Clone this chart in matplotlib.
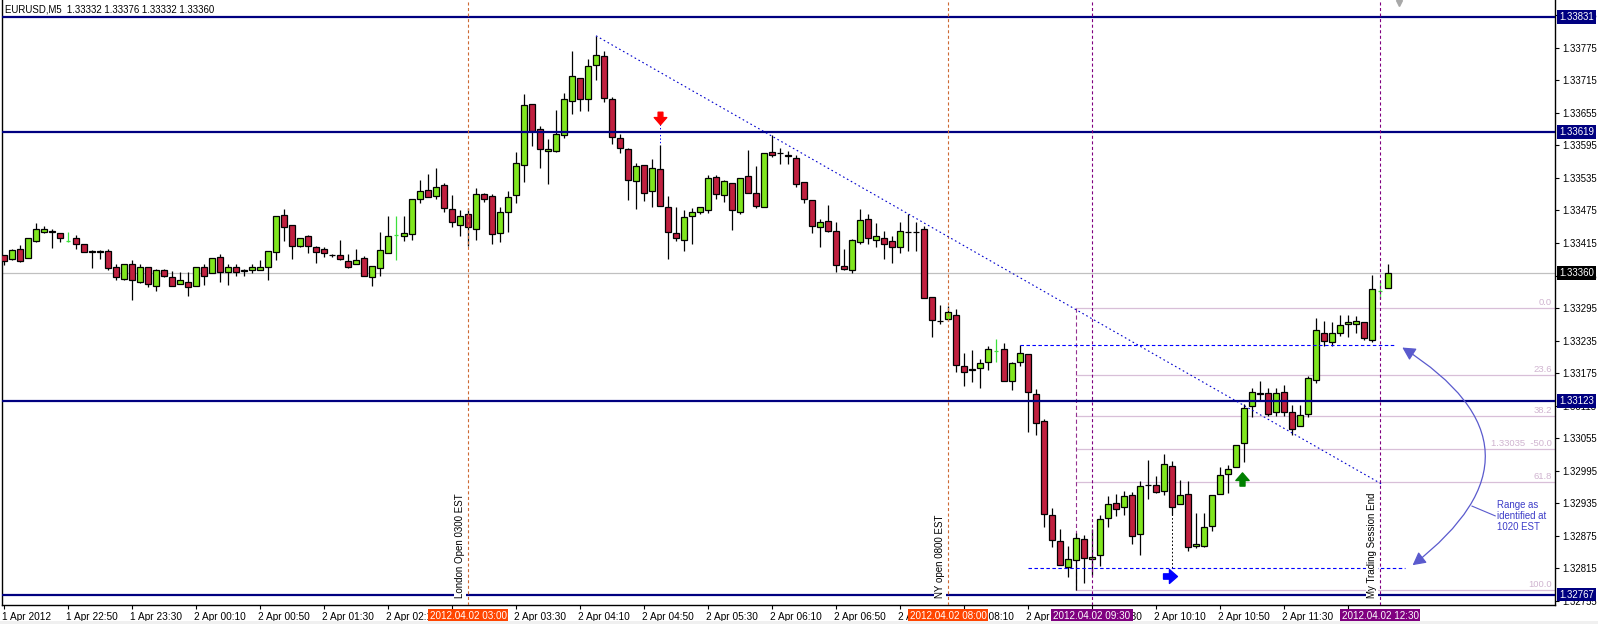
import numpy as np
import matplotlib
matplotlib.use('Agg')
import matplotlib.pyplot as plt
import matplotlib.transforms as mtransforms
from matplotlib.patches import Rectangle, FancyArrowPatch
from matplotlib.path import Path

plt.rcParams['font.family'] = ['Liberation Sans', 'DejaVu Sans']
plt.rcParams['lines.scale_dashes'] = False

# ---------------- data (EURUSD M5, bars from 1 Apr 2012 22:10) ----------------
opens = [
    1.33393, 1.33386, 1.33403, 1.33387, 1.33419, 1.33436, 1.33437, 1.33433, 1.33419, 1.33424,
    1.33414, 1.33400, 1.33400, 1.33400, 1.33371, 1.33349, 1.33377, 1.33344, 1.33370, 1.33335,
    1.33366, 1.33353, 1.33339, 1.33344, 1.33335, 1.33370, 1.33359, 1.33390, 1.33362, 1.33371,
    1.33365, 1.33366, 1.33366, 1.33370, 1.33398, 1.33466, 1.33448, 1.33410, 1.33427, 1.33407,
    1.33403, 1.33393, 1.33393, 1.33381, 1.33376, 1.33387, 1.33353, 1.33369, 1.33397, 1.33429,
    1.33427, 1.33431, 1.33497, 1.33513, 1.33502, 1.33522, 1.33477, 1.33449, 1.33468, 1.33441,
    1.33506, 1.33502, 1.33433, 1.33472, 1.33503, 1.33558, 1.33672, 1.33625, 1.33584, 1.33584,
    1.33614, 1.33677, 1.33719, 1.33681, 1.33744, 1.33760, 1.33680, 1.33609, 1.33588, 1.33530,
    1.33558, 1.33510, 1.33551, 1.33481, 1.33433, 1.33420, 1.33464, 1.33472, 1.33476, 1.33536,
    1.33503, 1.33525, 1.33473, 1.33538, 1.33508, 1.33481, 1.33582, 1.33581, 1.33578, 1.33571,
    1.33527, 1.33494, 1.33444, 1.33455, 1.33438, 1.33372, 1.33365, 1.33417, 1.33460, 1.33420,
    1.33424, 1.33418, 1.33408, 1.33436, 1.33436, 1.33440, 1.33316, 1.33272, 1.33274, 1.33283,
    1.33188, 1.33182, 1.33184, 1.33196, 1.33215, 1.33219, 1.33161, 1.33195, 1.33210, 1.33136,
    1.33087, 1.32913, 1.32866, 1.32817, 1.32831, 1.32869, 1.32832, 1.32839, 1.32908, 1.32935,
    1.32928, 1.32950, 1.32878, 1.32969, 1.32968, 1.32957, 1.33003, 1.32933, 1.32952, 1.32856,
    1.32856, 1.32893, 1.32952, 1.32989, 1.33002, 1.33046, 1.33115, 1.33139, 1.33139, 1.33103,
    1.33141, 1.33104, 1.33078, 1.33100, 1.33163, 1.33250, 1.33233, 1.33250, 1.33266, 1.33266,
    1.33269, 1.33236, 1.33327, 1.33332]
highs = [
    1.33393, 1.33403, 1.33411, 1.33424, 1.33452, 1.33446, 1.33440, 1.33434, 1.33435, 1.33430,
    1.33414, 1.33402, 1.33402, 1.33403, 1.33376, 1.33377, 1.33384, 1.33377, 1.33371, 1.33367,
    1.33367, 1.33363, 1.33361, 1.33362, 1.33371, 1.33376, 1.33387, 1.33395, 1.33377, 1.33377,
    1.33367, 1.33376, 1.33384, 1.33400, 1.33464, 1.33477, 1.33448, 1.33424, 1.33429, 1.33410,
    1.33407, 1.33394, 1.33421, 1.33394, 1.33403, 1.33391, 1.33372, 1.33435, 1.33465, 1.33465,
    1.33465, 1.33496, 1.33531, 1.33543, 1.33553, 1.33525, 1.33503, 1.33475, 1.33479, 1.33516,
    1.33508, 1.33506, 1.33482, 1.33510, 1.33582, 1.33690, 1.33672, 1.33631, 1.33606, 1.33661,
    1.33691, 1.33769, 1.33719, 1.33754, 1.33797, 1.33769, 1.33685, 1.33615, 1.33590, 1.33562,
    1.33558, 1.33569, 1.33596, 1.33502, 1.33482, 1.33475, 1.33479, 1.33482, 1.33540, 1.33540,
    1.33532, 1.33525, 1.33534, 1.33586, 1.33556, 1.33581, 1.33614, 1.33590, 1.33585, 1.33577,
    1.33528, 1.33494, 1.33459, 1.33485, 1.33453, 1.33403, 1.33422, 1.33478, 1.33468, 1.33451,
    1.33437, 1.33427, 1.33454, 1.33468, 1.33453, 1.33446, 1.33316, 1.33301, 1.33298, 1.33293,
    1.33212, 1.33218, 1.33201, 1.33225, 1.33238, 1.33230, 1.33196, 1.33227, 1.33210, 1.33145,
    1.33091, 1.32926, 1.32887, 1.32857, 1.32880, 1.32877, 1.32887, 1.32913, 1.32948, 1.32952,
    1.32958, 1.32956, 1.32976, 1.33015, 1.32986, 1.33026, 1.33013, 1.32978, 1.32976, 1.32917,
    1.32917, 1.32950, 1.33002, 1.33005, 1.33042, 1.33118, 1.33147, 1.33161, 1.33147, 1.33147,
    1.33153, 1.33116, 1.33116, 1.33169, 1.33276, 1.33271, 1.33270, 1.33282, 1.33282, 1.33280,
    1.33269, 1.33356, 1.33343, 1.33376]
lows = [
    1.33374, 1.33384, 1.33380, 1.33387, 1.33417, 1.33434, 1.33406, 1.33417, 1.33417, 1.33403,
    1.33398, 1.33369, 1.33385, 1.33365, 1.33347, 1.33347, 1.33310, 1.33342, 1.33333, 1.33327,
    1.33353, 1.33335, 1.33339, 1.33317, 1.33335, 1.33338, 1.33359, 1.33344, 1.33338, 1.33354,
    1.33354, 1.33359, 1.33365, 1.33347, 1.33384, 1.33419, 1.33386, 1.33408, 1.33397, 1.33379,
    1.33389, 1.33390, 1.33384, 1.33369, 1.33376, 1.33355, 1.33335, 1.33355, 1.33396, 1.33384,
    1.33419, 1.33421, 1.33488, 1.33500, 1.33497, 1.33473, 1.33445, 1.33428, 1.33410, 1.33420,
    1.33491, 1.33414, 1.33416, 1.33436, 1.33488, 1.33528, 1.33594, 1.33554, 1.33523, 1.33583,
    1.33608, 1.33652, 1.33659, 1.33659, 1.33715, 1.33674, 1.33598, 1.33581, 1.33494, 1.33477,
    1.33493, 1.33482, 1.33483, 1.33386, 1.33418, 1.33401, 1.33413, 1.33468, 1.33470, 1.33496,
    1.33491, 1.33439, 1.33468, 1.33507, 1.33479, 1.33481, 1.33574, 1.33561, 1.33561, 1.33518,
    1.33488, 1.33433, 1.33408, 1.33435, 1.33362, 1.33365, 1.33360, 1.33414, 1.33413, 1.33408,
    1.33385, 1.33379, 1.33397, 1.33401, 1.33401, 1.33313, 1.33241, 1.33265, 1.33271, 1.33178,
    1.33151, 1.33158, 1.33148, 1.33181, 1.33196, 1.33160, 1.33144, 1.33189, 1.33066, 1.33061,
    1.32892, 1.32855, 1.32821, 1.32800, 1.32776, 1.32789, 1.32803, 1.32820, 1.32892, 1.32911,
    1.32913, 1.32860, 1.32839, 1.32944, 1.32955, 1.32951, 1.32913, 1.32933, 1.32848, 1.32852,
    1.32855, 1.32885, 1.32952, 1.32954, 1.33002, 1.33012, 1.33095, 1.33124, 1.33097, 1.33097,
    1.33097, 1.33061, 1.33078, 1.33095, 1.33156, 1.33226, 1.33226, 1.33244, 1.33242, 1.33250,
    1.33237, 1.33233, 1.33312, 1.33332]
closes = [
    1.33382, 1.33402, 1.33382, 1.33424, 1.33440, 1.33440, 1.33436, 1.33424, 1.33419, 1.33413,
    1.33398, 1.33399, 1.33399, 1.33368, 1.33353, 1.33376, 1.33346, 1.33371, 1.33339, 1.33365,
    1.33355, 1.33335, 1.33346, 1.33333, 1.33371, 1.33355, 1.33387, 1.33361, 1.33370, 1.33361,
    1.33364, 1.33370, 1.33371, 1.33400, 1.33464, 1.33445, 1.33409, 1.33424, 1.33409, 1.33399,
    1.33396, 1.33392, 1.33385, 1.33371, 1.33383, 1.33355, 1.33372, 1.33402, 1.33427, 1.33429,
    1.33433, 1.33496, 1.33511, 1.33500, 1.33518, 1.33480, 1.33453, 1.33464, 1.33444, 1.33505,
    1.33497, 1.33431, 1.33473, 1.33499, 1.33562, 1.33669, 1.33621, 1.33588, 1.33588, 1.33615,
    1.33680, 1.33722, 1.33680, 1.33741, 1.33761, 1.33682, 1.33610, 1.33591, 1.33532, 1.33557,
    1.33508, 1.33553, 1.33483, 1.33435, 1.33424, 1.33462, 1.33473, 1.33481, 1.33534, 1.33505,
    1.33529, 1.33475, 1.33534, 1.33507, 1.33484, 1.33580, 1.33578, 1.33580, 1.33575, 1.33524,
    1.33496, 1.33446, 1.33453, 1.33437, 1.33374, 1.33367, 1.33420, 1.33457, 1.33424, 1.33427,
    1.33414, 1.33407, 1.33437, 1.33435, 1.33435, 1.33313, 1.33273, 1.33271, 1.33287, 1.33190,
    1.33178, 1.33181, 1.33193, 1.33219, 1.33215, 1.33161, 1.33193, 1.33212, 1.33140, 1.33083,
    1.32915, 1.32868, 1.32821, 1.32832, 1.32871, 1.32834, 1.32837, 1.32906, 1.32933, 1.32924,
    1.32948, 1.32874, 1.32967, 1.32968, 1.32956, 1.33007, 1.32929, 1.32950, 1.32855, 1.32860,
    1.32891, 1.32950, 1.32987, 1.32998, 1.33042, 1.33110, 1.33141, 1.33136, 1.33099, 1.33139,
    1.33103, 1.33073, 1.33098, 1.33166, 1.33254, 1.33234, 1.33249, 1.33263, 1.33269, 1.33271,
    1.33239, 1.33330, 1.33327, 1.33360]

time_tick_bars = [0, 8, 16, 24, 32, 40, 48, 56, 64, 72, 80, 88, 96, 104, 112, 120, 128, 136,
                  144, 152, 160, 168]
time_tick_labels = ['1 Apr 2012', '1 Apr 22:50', '1 Apr 23:30', '2 Apr 00:10', '2 Apr 00:50',
                    '2 Apr 01:30', '2 Apr 02:10', '2 Apr 02:50', '2 Apr 03:30', '2 Apr 04:10',
                    '2 Apr 04:50', '2 Apr 05:30', '2 Apr 06:10', '2 Apr 06:50', '2 Apr 07:30',
                    '2 Apr 08:10', '2 Apr 08:50', '2 Apr 09:30', '2 Apr 10:10', '2 Apr 10:50',
                    '2 Apr 11:30', '2 Apr 12:10']
price_ticks = [1.32755, 1.32815, 1.32875, 1.32935, 1.32995, 1.33055, 1.33115, 1.33175, 1.33235,
               1.33295, 1.33355, 1.33415, 1.33475, 1.33535, 1.33595, 1.33655, 1.33715, 1.33775,
               1.33835]

hlines_levels = [1.33831, 1.33619, 1.33123, 1.32767]
bid_price = 1.33360
title_text = 'EURUSD,M5  1.33332 1.33376 1.33332 1.33360'

# vertical event lines: bar index, label, axis-box text, colour
vline_bars = [58, 118, 136, 172]
vline_texts = ['London Open 0300 EST', 'NY open 0800 EST', '', 'My Trading Session End']
vline_box_texts = ['2012.04.02 03:00', '2012.04.02 08:00', '2012.04.02 09:30', '2012.04.02 12:30']
vline_colors = ['#CD6A35', '#CD6A35', '#800080', '#800080']
vline_box_colors = ['#FF4500', '#FF4500', '#800080', '#800080']

# fibonacci
fib_bar = 134
fib_high = 1.33295
fib_low = 1.32775
fib_levels = [0.0, 23.6, 38.2, 50.0, 61.8, 100.0]
fib_labels = ['0.0', '23.6', '38.2', '1.33035  -50.0', '61.8', '100.0']

# trend line (bar, price)
trend_start = (74, 1.33797)
trend_end = (172.4, 1.32969)

# range lines
range_high = 1.33227
range_low = 1.32815
range_high_bars = (127, 173.9)
range_low_bars = (128, 175.1)
range_marker_bar = 146

# arrows (bar, price)
red_arrow = (82, 1.33645)
green_arrow = (154.8, 1.32980)
blue_arrow = (145.8, 1.32801)

# ---------------- figure ----------------
W, H = 1598, 624
fig = plt.figure(figsize=(W / 100, H / 100), dpi=100)
fig.patch.set_facecolor('white')
ax = fig.add_axes([2 / W, 19 / H, 1553 / W, 605 / H])
ax.set_xlim(-0.25, 193.875)
ax.set_ylim(1.327477, 1.338629)
ax.set_facecolor('white')
ax.spines['top'].set_visible(False)
for s in ['left', 'right', 'bottom']:
    ax.spines[s].set_linewidth(1.0)
    ax.spines[s].set_color('black')

O = np.array(opens); Hh = np.array(highs); L = np.array(lows); C = np.array(closes)
xb = np.arange(len(O))
flat = np.abs(O - C) < 1e-9

GREEN = '#80E61E'
RED = '#C0203F'
BW = 0.64

# bid line (behind)
ax.axhline(bid_price, color='#C0C0C0', lw=0.9, zorder=1)

# fib lines
fib_prices = [fib_high - (fib_high - fib_low) * lv / 100 for lv in fib_levels]
for fp, lab in zip(fib_prices, fib_labels):
    ax.plot([fib_bar, ax.get_xlim()[1]], [fp, fp], color='#D8BFD8', lw=0.9, zorder=1.5)
    ax.text(ax.get_xlim()[1] - 0.35, fp + 0.00002, lab, ha='right', va='bottom',
            fontsize=6.8, color='#D0B4D0', zorder=2)
ax.plot([fib_bar, fib_bar], [fib_low, fib_high], color='#93308F', lw=0.8,
        dashes=(3, 2), zorder=1.6)

# candles
ax.vlines(xb[~flat], L[~flat], Hh[~flat], color='black', lw=0.9, zorder=3)
for i in xb[~flat]:
    lo, hi = min(O[i], C[i]), max(O[i], C[i])
    fc = GREEN if C[i] > O[i] else RED
    ax.add_patch(Rectangle((i - BW / 2, lo), BW, hi - lo, facecolor=fc, edgecolor='black',
                           lw=0.9, zorder=4))
ax.vlines(xb[flat], L[flat], Hh[flat], color='#3CE03C', lw=0.9, zorder=3)
ax.hlines(O[flat], xb[flat] - 0.3, xb[flat] + 0.3, color='#3CE03C', lw=0.9, zorder=3)

# navy horizontal lines
for lv in hlines_levels:
    ax.axhline(lv, color='#000080', lw=1.6, zorder=5)

# vertical event lines
for b, txt, col in zip(vline_bars, vline_texts, vline_colors):
    ax.axvline(b, color=col, lw=0.8, dashes=(2.2, 1.8), zorder=6)
    if txt:
        ax.text(b - 0.95, 1.32761, txt, rotation=90, ha='center', va='bottom', fontsize=7,
                color='black', zorder=7,
                bbox=dict(boxstyle='square,pad=0.1', fc='white', ec='none'))

# trend line
ax.plot([trend_start[0], trend_end[0]], [trend_start[1], trend_end[1]], color='#0000CD',
        lw=0.8, dashes=(1.2, 2.0), zorder=6)

# range lines
ax.plot(range_high_bars, [range_high, range_high], color='#0000FF', lw=0.8, dashes=(2.5, 1.8),
        zorder=6)
ax.plot(range_low_bars, [range_low, range_low], color='#0000FF', lw=0.8, dashes=(2.5, 1.8),
        zorder=6)
ax.plot([range_marker_bar, range_marker_bar],
        [range_low, min(O[range_marker_bar], C[range_marker_bar])],
        color='black', lw=0.7, dashes=(1.2, 1.5), zorder=2)
ax.plot([red_arrow[0], red_arrow[0]], [red_arrow[1] - 0.0001, Hh[red_arrow[0]]], color='#0000FF',
        lw=0.7, dashes=(1.0, 1.5), zorder=2)


def arrow_path(direction):
    v = np.array([(-0.38, -1.0), (0.38, -1.0), (0.38, -0.15), (1.0, -0.15), (0.0, 1.0),
                  (-1.0, -0.15), (-0.38, -0.15), (-0.38, -1.0)])
    if direction == 'down':
        v = v * np.array([1, -1])
    elif direction == 'right':
        v = v[:, ::-1]
    return Path(v, closed=True)


ax.plot(*red_arrow, marker=arrow_path('down'), ms=9, color='#FF0000', mec='#FF0000', zorder=8)
ax.plot(*green_arrow, marker=arrow_path('up'), ms=9.5, color='#008000', mec='#008000', zorder=8)
ax.plot(*blue_arrow, marker=arrow_path('right'), ms=10, color='#0000FF', mec='#0000FF', zorder=8)

# curved double arrow + note
arc = FancyArrowPatch((174.5, 1.33225), (175.8, 1.32818), connectionstyle='arc3,rad=-0.72',
                      arrowstyle='<|-|>,head_length=0.6,head_width=0.32', mutation_scale=13,
                      color='#5A5ACD', lw=0.9, zorder=8)
ax.add_patch(arc)
ax.plot([183.5, 186.4], [1.32930, 1.32912], color='#5A5ACD', lw=0.8, zorder=8)
ax.text(186.6, 1.32912, 'Range as\nidentified at\n1020 EST', ha='left', va='center',
        fontsize=6.9, color='#3C3CC8', linespacing=1.1, zorder=8)

# shift marker
ax.plot(174.4, 1.33858, marker='v', ms=5, color='#A8A8A8', mec='#A8A8A8', zorder=8, clip_on=False)

# title
fig.text(5 / W, 1 - 10 / H, title_text, ha='left', va='center', fontsize=6.9, color='black')

# right price axis
ax.yaxis.tick_right()
ax.set_yticks(price_ticks)
ax.set_yticklabels([f'{v:.5f}' for v in price_ticks])
ax.tick_params(axis='y', direction='out', length=3, width=0.8, pad=2, labelsize=6.9,
               colors='black')
ytr = ax.get_yaxis_transform()
for lv in hlines_levels:
    ax.text(1 + 4 / 1553, lv, f'{lv:.5f}', transform=ytr, ha='left', va='center', fontsize=6.9,
            color='white', zorder=10, clip_on=False,
            bbox=dict(boxstyle='square,pad=0.2', fc='#000080', ec='none'))
ax.text(1 + 4 / 1553, bid_price, f'{bid_price:.5f}', transform=ytr, ha='left', va='center',
        fontsize=6.9, color='white', zorder=10, clip_on=False,
        bbox=dict(boxstyle='square,pad=0.2', fc='black', ec='none'))

# bottom time axis
ax.set_xticks(time_tick_bars)
ax.set_xticklabels(time_tick_labels, ha='left')
ax.tick_params(axis='x', direction='out', length=3, width=0.8, pad=2, labelsize=7.3,
               colors='black')
offset = mtransforms.ScaledTranslation(-1.5 / 72, 0, fig.dpi_scale_trans)
for lab in ax.get_xticklabels():
    lab.set_transform(lab.get_transform() + offset)

xtr = ax.get_xaxis_transform()
for b, t, bc in zip(vline_bars, vline_box_texts, vline_box_colors):
    ax.text(b, -11 / 605, t, transform=xtr, ha='center', va='center', fontsize=7.1,
            color='white', zorder=10, clip_on=False,
            bbox=dict(boxstyle='square,pad=0.2', fc=bc, ec='none'))

# light grey status strip at the very bottom
fig.patches.append(Rectangle((0, 0), 1, 3 / H, transform=fig.transFigure, fc='#F0F0F0',
                             ec='none', zorder=0))

fig.savefig('out.png', dpi=100, facecolor='white')
